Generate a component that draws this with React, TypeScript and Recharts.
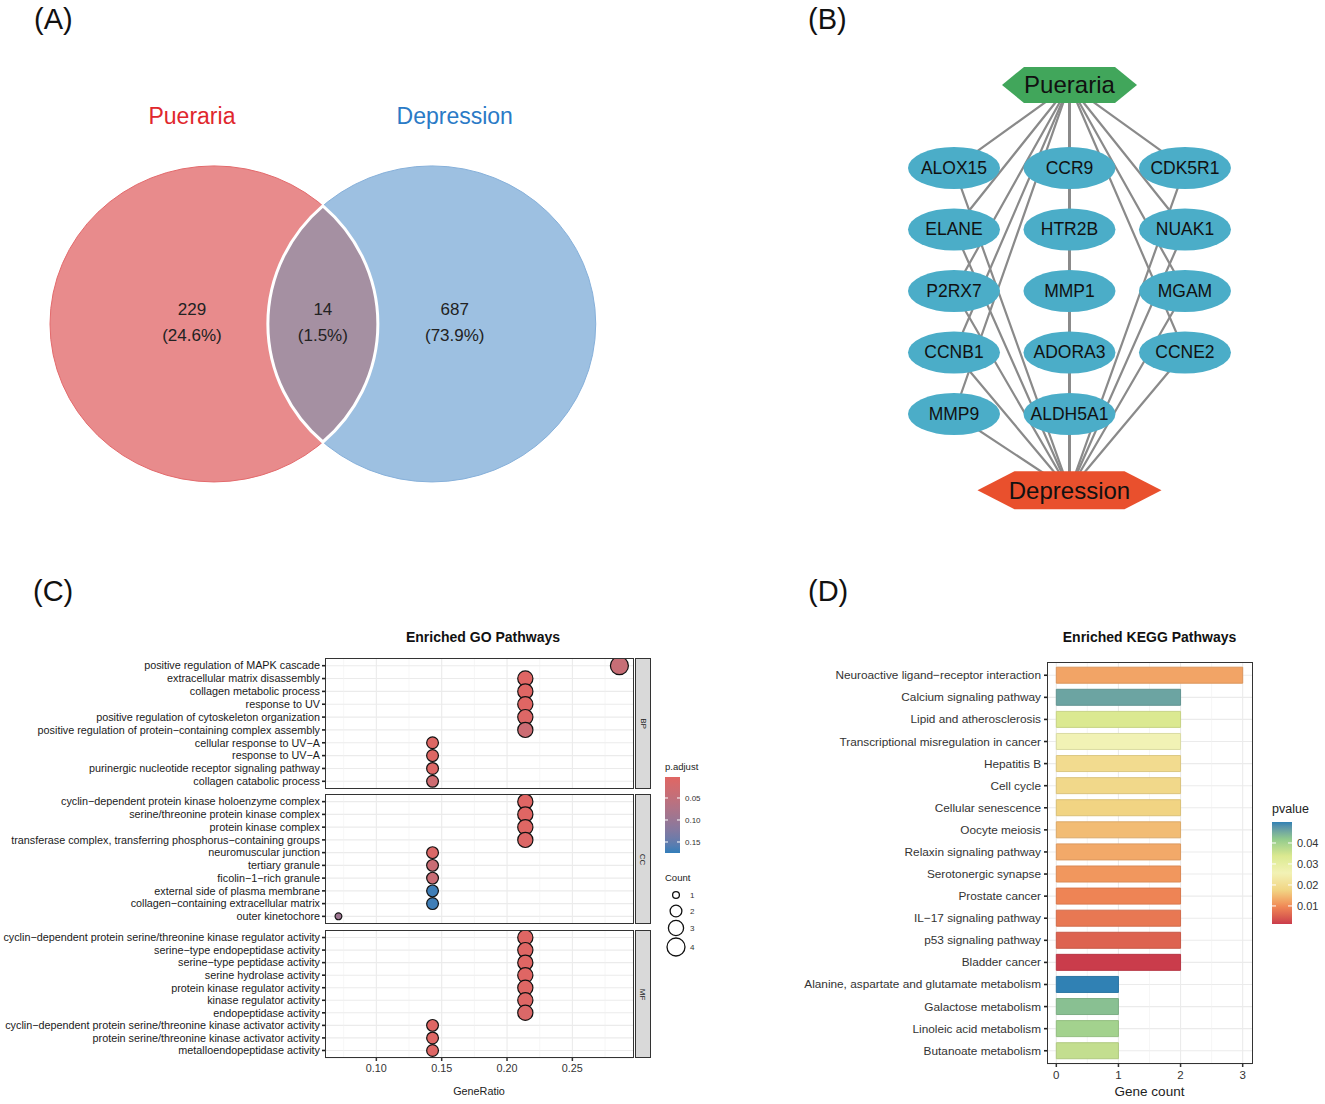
import React from "react";
import {
  ScatterChart,
  Scatter,
  BarChart,
  Bar,
  Cell,
  XAxis,
  YAxis,
  ZAxis,
  CartesianGrid,
} from "recharts";

const FONT = "Arial, 'Liberation Sans', Helvetica, sans-serif";
const M = "\u2212";

// ---------- (A) Venn ----------
const vennSets = ["Pueraria", "Depression"];
const vennCounts = [229, 14, 687]; // Pueraria only, shared, Depression only

// ---------- (B) network ----------
const hubNames = ["Pueraria", "Depression"];
const geneColumns = [
  ["ALOX15", "ELANE", "P2RX7", "CCNB1", "MMP9"],
  ["CCR9", "HTR2B", "MMP1", "ADORA3", "ALDH5A1"],
  ["CDK5R1", "NUAK1", "MGAM", "CCNE2"],
];

// ---------- (C) GO dot plot ----------
const bpTerms = [
  "positive regulation of MAPK cascade",
  "extracellular matrix disassembly",
  "collagen metabolic process",
  "response to UV",
  "positive regulation of cytoskeleton organization",
  `positive regulation of protein${M}containing complex assembly`,
  `cellular response to UV${M}A`,
  `response to UV${M}A`,
  "purinergic nucleotide receptor signaling pathway",
  "collagen catabolic process",
];
const bpCount = [4, 3, 3, 3, 3, 3, 2, 2, 2, 2];
const bpRatio = [0.286, 0.214, 0.214, 0.214, 0.214, 0.214, 0.143, 0.143, 0.143, 0.143];
const bpPadj = [0.04, 0.004, 0.004, 0.004, 0.008, 0.034, 0.005, 0.005, 0.006, 0.03];

const ccTerms = [
  `cyclin${M}dependent protein kinase holoenzyme complex`,
  "serine/threonine protein kinase complex",
  "protein kinase complex",
  `transferase complex, transferring phosphorus${M}containing groups`,
  "neuromuscular junction",
  "tertiary granule",
  `ficolin${M}1${M}rich granule`,
  "external side of plasma membrane",
  `collagen${M}containing extracellular matrix`,
  "outer kinetochore",
];
const ccCount = [3, 3, 3, 3, 2, 2, 2, 2, 2, 1];
const ccRatio = [0.214, 0.214, 0.214, 0.214, 0.143, 0.143, 0.143, 0.143, 0.143, 0.071];
const ccPadj = [0.004, 0.004, 0.005, 0.008, 0.01, 0.038, 0.038, 0.17, 0.17, 0.095];

const mfTerms = [
  `cyclin${M}dependent protein serine/threonine kinase regulator activity`,
  `serine${M}type endopeptidase activity`,
  `serine${M}type peptidase activity`,
  "serine hydrolase activity",
  "protein kinase regulator activity",
  "kinase regulator activity",
  "endopeptidase activity",
  `cyclin${M}dependent protein serine/threonine kinase activator activity`,
  "protein serine/threonine kinase activator activity",
  "metalloendopeptidase activity",
];
const mfCount = [3, 3, 3, 3, 3, 3, 3, 2, 2, 2];
const mfRatio = [0.214, 0.214, 0.214, 0.214, 0.214, 0.214, 0.214, 0.143, 0.143, 0.143];
const mfPadj = [0.004, 0.004, 0.004, 0.004, 0.005, 0.006, 0.012, 0.004, 0.005, 0.006];

const goFacetNames = ["BP", "CC", "MF"];
const goRatioTicks = [0.1, 0.15, 0.2, 0.25];
const goPadjRange = [0.0023, 0.175];
const goPadjLegendTicks = [0.05, 0.1, 0.15];
const goCountLegend = [1, 2, 3, 4];

// ---------- (D) KEGG bar chart ----------
const keggTerms = [
  `Neuroactive ligand${M}receptor interaction`,
  "Calcium signaling pathway",
  "Lipid and atherosclerosis",
  "Transcriptional misregulation in cancer",
  "Hepatitis B",
  "Cell cycle",
  "Cellular senescence",
  "Oocyte meiosis",
  "Relaxin signaling pathway",
  "Serotonergic synapse",
  "Prostate cancer",
  `IL${M}17 signaling pathway`,
  "p53 signaling pathway",
  "Bladder cancer",
  "Alanine, aspartate and glutamate metabolism",
  "Galactose metabolism",
  "Linoleic acid metabolism",
  "Butanoate metabolism",
];
const keggCount = [3, 2, 2, 2, 2, 2, 2, 2, 2, 2, 2, 2, 2, 2, 1, 1, 1, 1];
const keggP = [
  0.0125, 0.046, 0.0335, 0.026, 0.0195, 0.0185, 0.0175, 0.015, 0.013, 0.0112,
  0.0093, 0.0078, 0.0055, 0.0015, 0.05, 0.043, 0.04, 0.0365,
];
const keggPRange = [0.0014, 0.05];
const keggCountTicks = [0, 1, 2, 3];
const keggPLegendTicks = [0.01, 0.02, 0.03, 0.04];

// ---------- colour helpers (Lab interpolation like ggplot) ----------
function hexToRgb(h: string) {
  const n = parseInt(h.slice(1), 16);
  return [(n >> 16) & 255, (n >> 8) & 255, n & 255];
}
function toLab(hex: string) {
  const lin = (c: number) => {
    c /= 255;
    return c <= 0.04045 ? c / 12.92 : Math.pow((c + 0.055) / 1.055, 2.4);
  };
  const [r, g, b] = hexToRgb(hex).map(lin);
  const X = (0.4124 * r + 0.3576 * g + 0.1805 * b) / 0.95047;
  const Y = 0.2126 * r + 0.7152 * g + 0.0722 * b;
  const Z = (0.0193 * r + 0.1192 * g + 0.9505 * b) / 1.08883;
  const f = (t: number) => (t > 0.008856 ? Math.cbrt(t) : 7.787 * t + 16 / 116);
  const fx = f(X), fy = f(Y), fz = f(Z);
  return [116 * fy - 16, 500 * (fx - fy), 200 * (fy - fz)];
}
function fromLab([L, a, bb]: number[]) {
  const fy = (L + 16) / 116;
  const fx = fy + a / 500;
  const fz = fy - bb / 200;
  const inv = (t: number) => (t * t * t > 0.008856 ? t * t * t : (t - 16 / 116) / 7.787);
  const X = inv(fx) * 0.95047, Y = inv(fy), Z = inv(fz) * 1.08883;
  const r = 3.2406 * X - 1.5372 * Y - 0.4986 * Z;
  const g = -0.9689 * X + 1.8758 * Y + 0.0415 * Z;
  const b = 0.0557 * X - 0.204 * Y + 1.057 * Z;
  const gam = (c: number) => {
    const v = c <= 0.0031308 ? 12.92 * c : 1.055 * Math.pow(c, 1 / 2.4) - 0.055;
    return Math.round(Math.max(0, Math.min(1, v)) * 255);
  };
  return "#" + [r, g, b].map(gam).map((v) => v.toString(16).padStart(2, "0")).join("");
}
function gradient(stops: string[]) {
  const labs = stops.map(toLab);
  return (t: number) => {
    t = Math.max(0, Math.min(1, t));
    const s = t * (labs.length - 1);
    const i = Math.min(labs.length - 2, Math.floor(s));
    const u = s - i;
    return fromLab(labs[i].map((v, k) => v + (labs[i + 1][k] - v) * u));
  };
}
function darken(hex: string, k: number) {
  return "#" + hexToRgb(hex).map((v) => Math.round(v * k).toString(16).padStart(2, "0")).join("");
}

const goScale = gradient(["#e06663", "#327eba"]);
const goColor = (p: number) => goScale((p - goPadjRange[0]) / (goPadjRange[1] - goPadjRange[0]));
const spectral = gradient(["#D53E4F", "#FC8D59", "#FEE08B", "#FFFFBF", "#E6F598", "#99D594", "#3288BD"]);
const keggColor = (p: number) => spectral((p - keggPRange[0]) / (keggPRange[1] - keggPRange[0]));

// single-line tick label (recharts would wrap long ones)
function PlainTick(props: any) {
  const { x, y, payload, labels, fontSize, fill } = props;
  const v = payload.value;
  const text = labels ? labels[v - 1] ?? "" : v;
  return (
    <text x={x} y={y} dy={fontSize * 0.35} textAnchor="end" fontSize={fontSize} fill={fill} fontFamily={FONT}>
      {text}
    </text>
  );
}

// ---------- panel A ----------
const A_W = 650, A_H = 560;
const A_X: [number, number] = [-1.305, 2.66];
const A_Y: [number, number] = [-1.494, 2.05];
const A_SEP = 1.329; // centre distance in radii
const A_RX = A_W / (A_X[1] - A_X[0]);
const A_RY = A_H / (A_Y[1] - A_Y[0]);
const total = vennCounts.reduce((a, b) => a + b, 0);

const vennCircles = vennSets.map((name, i) => ({ name, x: i * A_SEP, y: 0, i }));
const vennRegions = vennCounts.map((count, i) => ({
  count,
  pct: ((count / total) * 100).toFixed(1) + "%",
  x: [-0.134, A_SEP / 2, A_SEP + 0.14][i],
  y: 0,
}));
const vennNames = vennSets.map((name, i) => ({ name, x: [-0.134, A_SEP + 0.14][i], y: 1.316, i }));

const circleFill = ["#E88B8C", "#9DC0E1"];
const circleStroke = ["#E36A6C", "#86B0DA"];
const nameColor = ["#E0272D", "#2A7AC6"];

function VennCircle(props: any) {
  const { cx, cy, payload } = props;
  return (
    <ellipse cx={cx} cy={cy} rx={A_RX} ry={A_RY} fill={circleFill[payload.i]}
      stroke={circleStroke[payload.i]} strokeWidth={1} />
  );
}
function VennLens(props: any) {
  const { cx, cy } = props;
  const dx = (A_SEP * A_RX) / 2;
  const h = A_RY * Math.sqrt(1 - (dx / A_RX) ** 2);
  const d = `M${cx},${cy - h} A${A_RX},${A_RY} 0 0 1 ${cx},${cy + h} A${A_RX},${A_RY} 0 0 1 ${cx},${cy - h} Z`;
  return <path d={d} fill="#A590A2" stroke="#fff" strokeWidth={3} />;
}
function VennRegionLabel(props: any) {
  const { cx, cy, payload } = props;
  return (
    <g fontFamily={FONT} fontSize={17} fill="#222" textAnchor="middle">
      <text x={cx} y={cy - 9}>{payload.count}</text>
      <text x={cx} y={cy + 17}>({payload.pct})</text>
    </g>
  );
}
function VennNameLabel(props: any) {
  const { cx, cy, payload } = props;
  return (
    <text x={cx} y={cy} dy={8} fontFamily={FONT} fontSize={23} fill={nameColor[payload.i]} textAnchor="middle">
      {payload.name}
    </text>
  );
}

function PanelA() {
  return (
    <ScatterChart width={A_W} height={A_H} margin={{ top: 0, right: 0, bottom: 0, left: 0 }}>
      <XAxis type="number" dataKey="x" domain={A_X} hide allowDataOverflow />
      <YAxis type="number" dataKey="y" domain={A_Y} hide allowDataOverflow />
      <Scatter data={vennCircles} shape={VennCircle} isAnimationActive={false} />
      <Scatter data={[{ x: A_SEP / 2, y: 0 }]} shape={VennLens} isAnimationActive={false} />
      <Scatter data={vennRegions} shape={VennRegionLabel} isAnimationActive={false} />
      <Scatter data={vennNames} shape={VennNameLabel} isAnimationActive={false} />
    </ScatterChart>
  );
}

// ---------- panel B ----------
const B_W = 420, B_H = 480;
const B_X: [number, number] = [-0.814, 2.823];
const B_Y: [number, number] = [-2.081, 5.724];
const hubRows = [-1.35, 5.24];
const hubs = hubNames.map((name, i) => ({ name, x: 1, y: hubRows[i], kind: i }));
const genes = geneColumns.flatMap((col, c) => col.map((name, r) => ({ name, x: c, y: r, kind: -1 })));
const edgePaths = genes.map((g) => [hubs[0], g, hubs[1]].map((n) => ({ x: n.x, y: n.y })));

function Nothing() {
  return <g />;
}
function NetNode(props: any) {
  const { cx, cy, payload } = props;
  if (payload.kind < 0) {
    return (
      <g>
        <ellipse cx={cx} cy={cy} rx={46} ry={21} fill="#4BADC8" />
        <text x={cx} y={cy} dy={6} textAnchor="middle" fontFamily={FONT} fontSize={17.5} fill="#111">
          {payload.name}
        </text>
      </g>
    );
  }
  const w = payload.kind === 0 ? 135 : 184;
  const h = payload.kind === 0 ? 36 : 38;
  const inset = payload.kind === 0 ? 22 : 37;
  const pts = [
    [-w / 2, 0], [-w / 2 + inset, -h / 2], [w / 2 - inset, -h / 2],
    [w / 2, 0], [w / 2 - inset, h / 2], [-w / 2 + inset, h / 2],
  ].map(([x, y]) => `${cx + x},${cy + y}`).join(" ");
  return (
    <g>
      <polygon points={pts} fill={payload.kind === 0 ? "#41A65B" : "#E9502D"} />
      <text x={cx} y={cy} dy={8.5} textAnchor="middle" fontFamily={FONT} fontSize={24} fill="#111">
        {payload.name}
      </text>
    </g>
  );
}

function PanelB() {
  return (
    <ScatterChart width={B_W} height={B_H} margin={{ top: 0, right: 0, bottom: 0, left: 0 }}>
      <XAxis type="number" dataKey="x" domain={B_X} hide allowDataOverflow />
      <YAxis type="number" dataKey="y" domain={B_Y} hide reversed allowDataOverflow />
      {edgePaths.map((path, i) => (
        <Scatter key={i} data={path} shape={Nothing} line={{ stroke: "#8a8a8a", strokeWidth: 2.2 }}
          isAnimationActive={false} />
      ))}
      <Scatter data={[...genes, ...hubs]} shape={NetNode} isAnimationActive={false} />
    </ScatterChart>
  );
}

// ---------- panel C ----------
const C_PLOT_LEFT = 325, C_PLOT_W = 308;
const C_X: [number, number] = [0.0607, 0.2964];
const facetTops = [658, 794, 930];
const facetHeights = [131, 130, 128];
const goFacets = [
  { terms: bpTerms, count: bpCount, ratio: bpRatio, padj: bpPadj },
  { terms: ccTerms, count: ccCount, ratio: ccRatio, padj: ccPadj },
  { terms: mfTerms, count: mfCount, ratio: mfRatio, padj: mfPadj },
];
const minorTicks = [0.075, 0.125, 0.175, 0.225, 0.275];
const sizeRange: [number, number] = [36, 254];
const radiusForCount = (c: number) =>
  Math.sqrt((sizeRange[0] + ((c - 1) / 3) * (sizeRange[1] - sizeRange[0])) / Math.PI);

function GoFacet({ idx }: { idx: number }) {
  const f = goFacets[idx];
  const rows = f.terms.map((term, i) => ({ term, idx: i + 1, ratio: f.ratio[i], count: f.count[i], padj: f.padj[i] }));
  const last = idx === 2;
  const h = facetHeights[idx] + (last ? 42 : 0);
  const ticks = rows.map((r) => r.idx);
  return (
    <ScatterChart width={C_PLOT_LEFT + C_PLOT_W} height={h} margin={{ top: 0, right: 0, bottom: 0, left: 0 }}>
      <CartesianGrid stroke="#EBEBEB" strokeWidth={1.1} verticalValues={goRatioTicks} />
      <CartesianGrid stroke="#F0F0F0" strokeWidth={0.6} horizontal={false} verticalValues={minorTicks} />
      <XAxis
        type="number"
        dataKey="ratio"
        domain={C_X}
        ticks={goRatioTicks}
        allowDataOverflow
        hide={!last}
        height={42}
        axisLine={false}
        tickSize={3}
        tickMargin={3}
        tickLine={{ stroke: "#333", strokeWidth: 1.5 }}
        tickFormatter={(v: number) => v.toFixed(2)}
        tick={{ fontSize: 10.8, fill: "#333", fontFamily: FONT }}
        label={{ value: "GeneRatio", position: "insideBottom", offset: 5, fontSize: 10.8, fill: "#222", fontFamily: FONT }}
      />
      <YAxis
        type="number"
        dataKey="idx"
        domain={[0.4, rows.length + 0.6]}
        ticks={ticks}
        interval={0}
        reversed
        allowDataOverflow
        width={C_PLOT_LEFT}
        axisLine={false}
        tickSize={3}
        tickMargin={2}
        tickLine={{ stroke: "#222", strokeWidth: 1.6 }}
        tick={<PlainTick labels={f.terms} fontSize={10.8} fill="#1a1a1a" />}
      />
      <ZAxis type="number" dataKey="count" domain={[1, 4]} range={sizeRange} />
      <Scatter data={rows} stroke="#111" strokeWidth={1.2} isAnimationActive={false}>
        {rows.map((r, i) => (
          <Cell key={i} fill={goColor(r.padj)} />
        ))}
      </Scatter>
    </ScatterChart>
  );
}

function GoLegend() {
  const barTop = 777, barH = 76, barLeft = 665, barW = 15;
  const toY = (p: number) => barTop + ((p - goPadjRange[0]) / (goPadjRange[1] - goPadjRange[0])) * barH;
  const stops = Array.from({ length: 11 }, (_, i) => i / 10);
  const countY = [895, 911, 928, 947];
  return (
    <svg style={{ position: "absolute", left: 0, top: 0 }} width={1325} height={1104} fontFamily={FONT}>
      <defs>
        <linearGradient id="goGrad" x1="0" y1="0" x2="0" y2="1">
          {stops.map((t) => (
            <stop key={t} offset={t} stopColor={goScale(t)} />
          ))}
        </linearGradient>
      </defs>
      <text x={barLeft} y={770} fontSize={9.5} fill="#222">p.adjust</text>
      <rect x={barLeft} y={barTop} width={barW} height={barH} fill="url(#goGrad)" />
      {goPadjLegendTicks.map((p) => (
        <g key={p}>
          <line x1={barLeft} x2={barLeft + 3} y1={toY(p)} y2={toY(p)} stroke="#fff" />
          <line x1={barLeft + barW - 3} x2={barLeft + barW} y1={toY(p)} y2={toY(p)} stroke="#fff" />
          <text x={barLeft + barW + 5} y={toY(p) + 3} fontSize={8} fill="#333">{p.toFixed(2)}</text>
        </g>
      ))}
      <text x={barLeft} y={881} fontSize={9.5} fill="#222">Count</text>
      {goCountLegend.map((c, i) => (
        <g key={c}>
          <circle cx={676} cy={countY[i]} r={radiusForCount(c)} fill="none" stroke="#111" strokeWidth={1.3} />
          <text x={690} y={countY[i] + 3} fontSize={8} fill="#333">{c}</text>
        </g>
      ))}
    </svg>
  );
}

function PanelC() {
  return (
    <>
      <div style={{ position: "absolute", left: 0, top: 629, width: 966, textAlign: "center", fontSize: 14, fontWeight: "bold", fontFamily: FONT, color: "#111" }}>
        Enriched GO Pathways
      </div>
      {goFacetNames.map((name, i) => (
        <React.Fragment key={name}>
          <div style={{ position: "absolute", left: 0, top: facetTops[i] }}>
            <GoFacet idx={i} />
          </div>
          <div style={{ position: "absolute", left: C_PLOT_LEFT, top: facetTops[i], width: C_PLOT_W + 1, height: facetHeights[i], border: "1.2px solid #333", boxSizing: "border-box", pointerEvents: "none" }} />
          <div style={{ position: "absolute", left: 635, top: facetTops[i], width: 16, height: facetHeights[i], background: "#D9D9D9", border: "1px solid #333", boxSizing: "border-box", display: "flex", alignItems: "center", justifyContent: "center" }}>
            <span style={{ transform: "rotate(90deg)", fontSize: 8, fontFamily: FONT, color: "#222" }}>{name}</span>
          </div>
        </React.Fragment>
      ))}
      <GoLegend />
    </>
  );
}

// ---------- panel D ----------
const keggData = keggTerms.map((term, i) => ({ term, count: keggCount[i], p: keggP[i] }));

function KeggTick(props: any) {
  const { x, y, payload } = props;
  return (
    <text x={x} y={y} dy={4} textAnchor="end" fontSize={11.8} fill="#333" fontFamily={FONT}>
      {payload.value}
    </text>
  );
}

function KeggLegend() {
  const barTop = 822, barH = 102, barLeft = 1272, barW = 20;
  const toY = (p: number) => barTop + (1 - (p - keggPRange[0]) / (keggPRange[1] - keggPRange[0])) * barH;
  const stops = Array.from({ length: 25 }, (_, i) => i / 24);
  return (
    <svg style={{ position: "absolute", left: 0, top: 0 }} width={1325} height={1104} fontFamily={FONT}>
      <defs>
        <linearGradient id="keggGrad" x1="0" y1="1" x2="0" y2="0">
          {stops.map((t) => (
            <stop key={t} offset={t} stopColor={darken(spectral(t), 0.95)} />
          ))}
        </linearGradient>
      </defs>
      <text x={barLeft} y={813} fontSize={12.5} fill="#222">pvalue</text>
      <rect x={barLeft} y={barTop} width={barW} height={barH} fill="url(#keggGrad)" />
      {keggPLegendTicks.map((p) => (
        <g key={p}>
          <line x1={barLeft} x2={barLeft + 4} y1={toY(p)} y2={toY(p)} stroke="#fff" />
          <line x1={barLeft + barW - 4} x2={barLeft + barW} y1={toY(p)} y2={toY(p)} stroke="#fff" />
          <text x={barLeft + barW + 5} y={toY(p) + 4} fontSize={11} fill="#333">{p.toFixed(2)}</text>
        </g>
      ))}
    </svg>
  );
}

function PanelD() {
  return (
    <>
      <div style={{ position: "absolute", left: 1047 - 150, top: 629, width: 505, textAlign: "center", fontSize: 14, fontWeight: "bold", fontFamily: FONT, color: "#111" }}>
        Enriched KEGG Pathways
      </div>
      <div style={{ position: "absolute", left: 790, top: 662 }}>
        <BarChart layout="vertical" width={462} height={442} data={keggData} barSize={16}
          margin={{ top: 0, right: 0, bottom: 0, left: 0 }}>
          <CartesianGrid stroke="#EBEBEB" strokeWidth={1.1} verticalValues={keggCountTicks} />
          <CartesianGrid stroke="#F0F0F0" strokeWidth={0.6} horizontal={false} verticalValues={[0.5, 1.5, 2.5]} />
          <XAxis
            type="number"
            dataKey="count"
            domain={[-0.15, 3.15]}
            ticks={keggCountTicks}
            allowDataOverflow
            height={40}
            axisLine={false}
            tickSize={3}
            tickMargin={4}
            tickLine={{ stroke: "#333", strokeWidth: 1.5 }}
            tick={{ fontSize: 11.5, fill: "#333", fontFamily: FONT }}
            label={{ value: "Gene count", position: "insideBottom", offset: 8, fontSize: 13.5, fill: "#222", fontFamily: FONT }}
          />
          <YAxis
            type="category"
            dataKey="term"
            width={257}
            interval={0}
            padding={{ top: 2.2, bottom: 2.2 }}
            axisLine={false}
            tickSize={3}
            tickMargin={3}
            tickLine={{ stroke: "#222", strokeWidth: 1.6 }}
            tick={<KeggTick />}
          />
          <Bar dataKey="count" isAnimationActive={false} strokeWidth={1}>
            {keggData.map((d, i) => (
              <Cell key={i} fill={darken(keggColor(d.p), 0.95)} stroke={darken(keggColor(d.p), 0.86)} />
            ))}
          </Bar>
        </BarChart>
      </div>
      <div style={{ position: "absolute", left: 1047, top: 662, width: 206, height: 402, border: "1.2px solid #333", boxSizing: "border-box", pointerEvents: "none" }} />
      <KeggLegend />
    </>
  );
}

const panelLabel = (text: string, left: number, top: number) => (
  <div style={{ position: "absolute", left, top, fontSize: 29, fontFamily: FONT, color: "#111" }}>{text}</div>
);

export default function App() {
  return (
    <div style={{ position: "absolute", left: 0, top: 0, width: 1325, height: 1104, background: "#fff", overflow: "hidden", fontFamily: FONT }}>
      {panelLabel("(A)", 34, 3)}
      {panelLabel("(B)", 808, 3)}
      {panelLabel("(C)", 33, 575)}
      {panelLabel("(D)", 808, 575)}
      <div style={{ position: "absolute", left: 0, top: 0 }}>
        <PanelA />
      </div>
      <div style={{ position: "absolute", left: 860, top: 40 }}>
        <PanelB />
      </div>
      <PanelC />
      <PanelD />
    </div>
  );
}
